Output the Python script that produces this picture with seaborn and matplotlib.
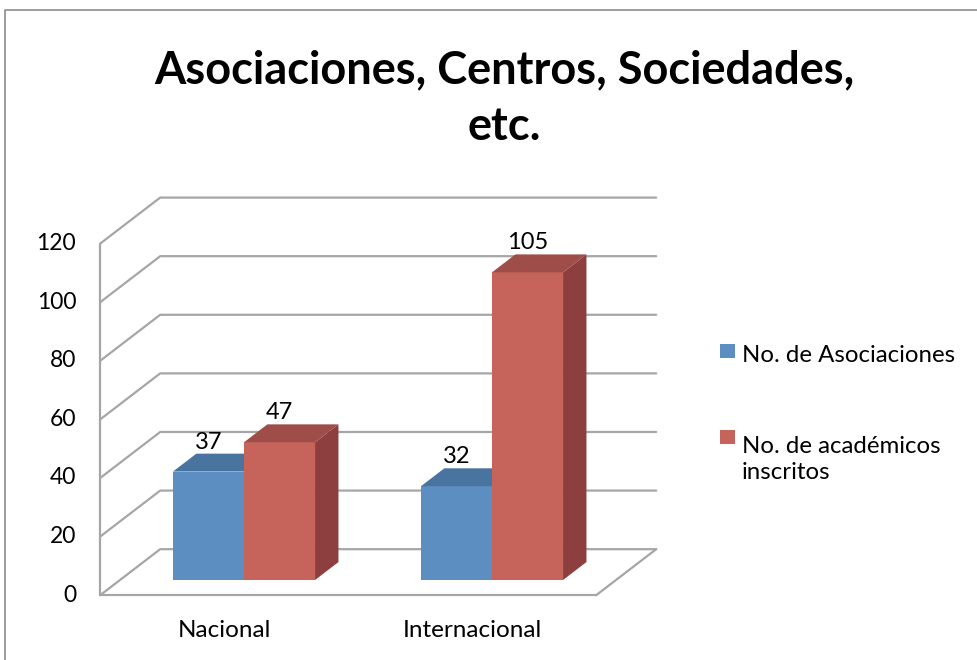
import matplotlib
matplotlib.use("Agg")
import matplotlib.pyplot as plt
from matplotlib.colors import to_hex
from matplotlib.lines import Line2D
from matplotlib.patches import Polygon, Rectangle
import pandas as pd
import seaborn as sns

# data
categories = ["Nacional", "Internacional"]
series_names = ["No. de Asociaciones", "No. de académicos\ninscritos"]
asociaciones = [37, 32]
academicos = [47, 105]
y_ticks = [0, 20, 40, 60, 80, 100, 120]
title_lines = ["Asociaciones, Centros, Sociedades,", "etc."]

# colours: front, side, top
blue = ("#5D8EC2", "#3F6590", "#4A74A0")
red = ("#C6645C", "#8C3F3E", "#9F4D48")
grid_col = "#A6A6A6"

W, H = 977, 660
sns.set_theme(style="white")
plt.rcParams["font.family"] = ["Lato", "DejaVu Sans"]
plt.rcParams["text.color"] = "black"

df = pd.DataFrame({
    "categoria": categories * 2,
    "serie": [series_names[0]] * 2 + [series_names[1]] * 2,
    "valor": asociaciones + academicos,
})

fig = plt.figure(figsize=(W / 100, H / 100), dpi=100)
ax = fig.add_axes([0, 0, 1, 1])
sns.barplot(data=df, x="categoria", y="valor", hue="serie",
            palette=[blue[0], red[0]], width=0.573, gap=0, saturation=1,
            errorbar=None, linewidth=0, legend=False, ax=ax)

# pixel-like layout of the fake 3D box (bar plane sits at 1/3 depth)
px_per_unit = 248
px_per_val = 2.93
ax.set_xlim(-244 / px_per_unit, (W - 244) / px_per_unit)
ax.set_ylim(-(H - 580) / px_per_val, 580 / px_per_val)
ax.axis("off")

DX, DY = 60 / px_per_unit, 46 / px_per_val
D0, BAR_D = 0.33, 0.39


def P(x, v, d):
    return x + (d - D0) * DX, v + (d - D0) * DY


# walls and floor
x_lo, x_hi = -0.5, 1.5
for v in y_ticks:
    a, b, c = P(x_lo, v, 0), P(x_lo, v, 1), P(x_hi, v, 1)
    ax.plot([a[0], b[0], c[0]], [a[1], b[1], c[1]], color=grid_col, lw=1.6, zorder=1)
    ax.annotate(str(v), xy=a, xytext=(-24, 0), textcoords="offset pixels",
                ha="right", va="center", fontsize=16.5, color="black")
for seg in [(P(x_lo, 0, 0), P(x_lo, y_ticks[-1], 0)),
            (P(x_lo, 0, 0), P(x_hi, 0, 0)),
            (P(x_hi, 0, 0), P(x_hi, 0, 1))]:
    ax.plot([seg[0][0], seg[1][0]], [seg[0][1], seg[1][1]], color=grid_col, lw=1.6, zorder=1)

for i, cat in enumerate(categories):
    ax.annotate(cat, xy=P(i, 0, 0), xytext=(0, -42), textcoords="offset pixels",
                ha="center", va="baseline", fontsize=17.5, color="black")

# side and top faces of each bar
shade = {to_hex(blue[0]): blue, to_hex(red[0]): red}
bdx, bdy = BAR_D * DX, BAR_D * DY
bars = sorted(ax.patches, key=lambda p: p.get_x())
for k, p in enumerate(bars):
    x0, w, h = p.get_x(), p.get_width(), p.get_height()
    cols = shade[to_hex(p.get_facecolor())]
    z = 3 + k
    p.set_zorder(z)
    side = [(x0 + w, 0), (x0 + w + bdx, bdy), (x0 + w + bdx, h + bdy), (x0 + w, h)]
    top = [(x0, h), (x0 + w, h), (x0 + w + bdx, h + bdy), (x0 + bdx, h + bdy)]
    ax.add_patch(Polygon(side, closed=True, facecolor=cols[1], lw=0, zorder=z))
    ax.add_patch(Polygon(top, closed=True, facecolor=cols[2], lw=0, zorder=z))
    ax.annotate(f"{h:.0f}", xy=(x0 + w / 2, h + bdy), xytext=(0, 1),
                textcoords="offset pixels", ha="center", va="bottom",
                fontsize=17, color="black", zorder=20)


def fx(px):
    return px / W


def fy(py):
    return 1 - py / H


# title (two centred lines)
for line, base in zip(title_lines, [83, 140]):
    fig.text(fx(504), fy(base), line, ha="center", va="baseline",
             fontsize=32.5, fontweight="bold", color="black")

# legend (baseline of each label's last line)
for (sq_y, base_y), name, cols in zip([(344, 362), (430, 479)], series_names, [blue, red]):
    fig.add_artist(Rectangle((fx(720), fy(sq_y + 14)), 15 / W, 14 / H,
                             transform=fig.transFigure, facecolor=cols[0], lw=0))
    fig.text(fx(742), fy(base_y), name, ha="left", va="baseline",
             fontsize=17.3, linespacing=1.32, color="black")

# chart frame
fig.add_artist(Line2D([fx(5), fx(5), fx(W)], [fy(H), fy(10), fy(10)],
                      transform=fig.transFigure, color="#8C8C8C", lw=1.2))

fig.savefig("out.png", dpi=100)
